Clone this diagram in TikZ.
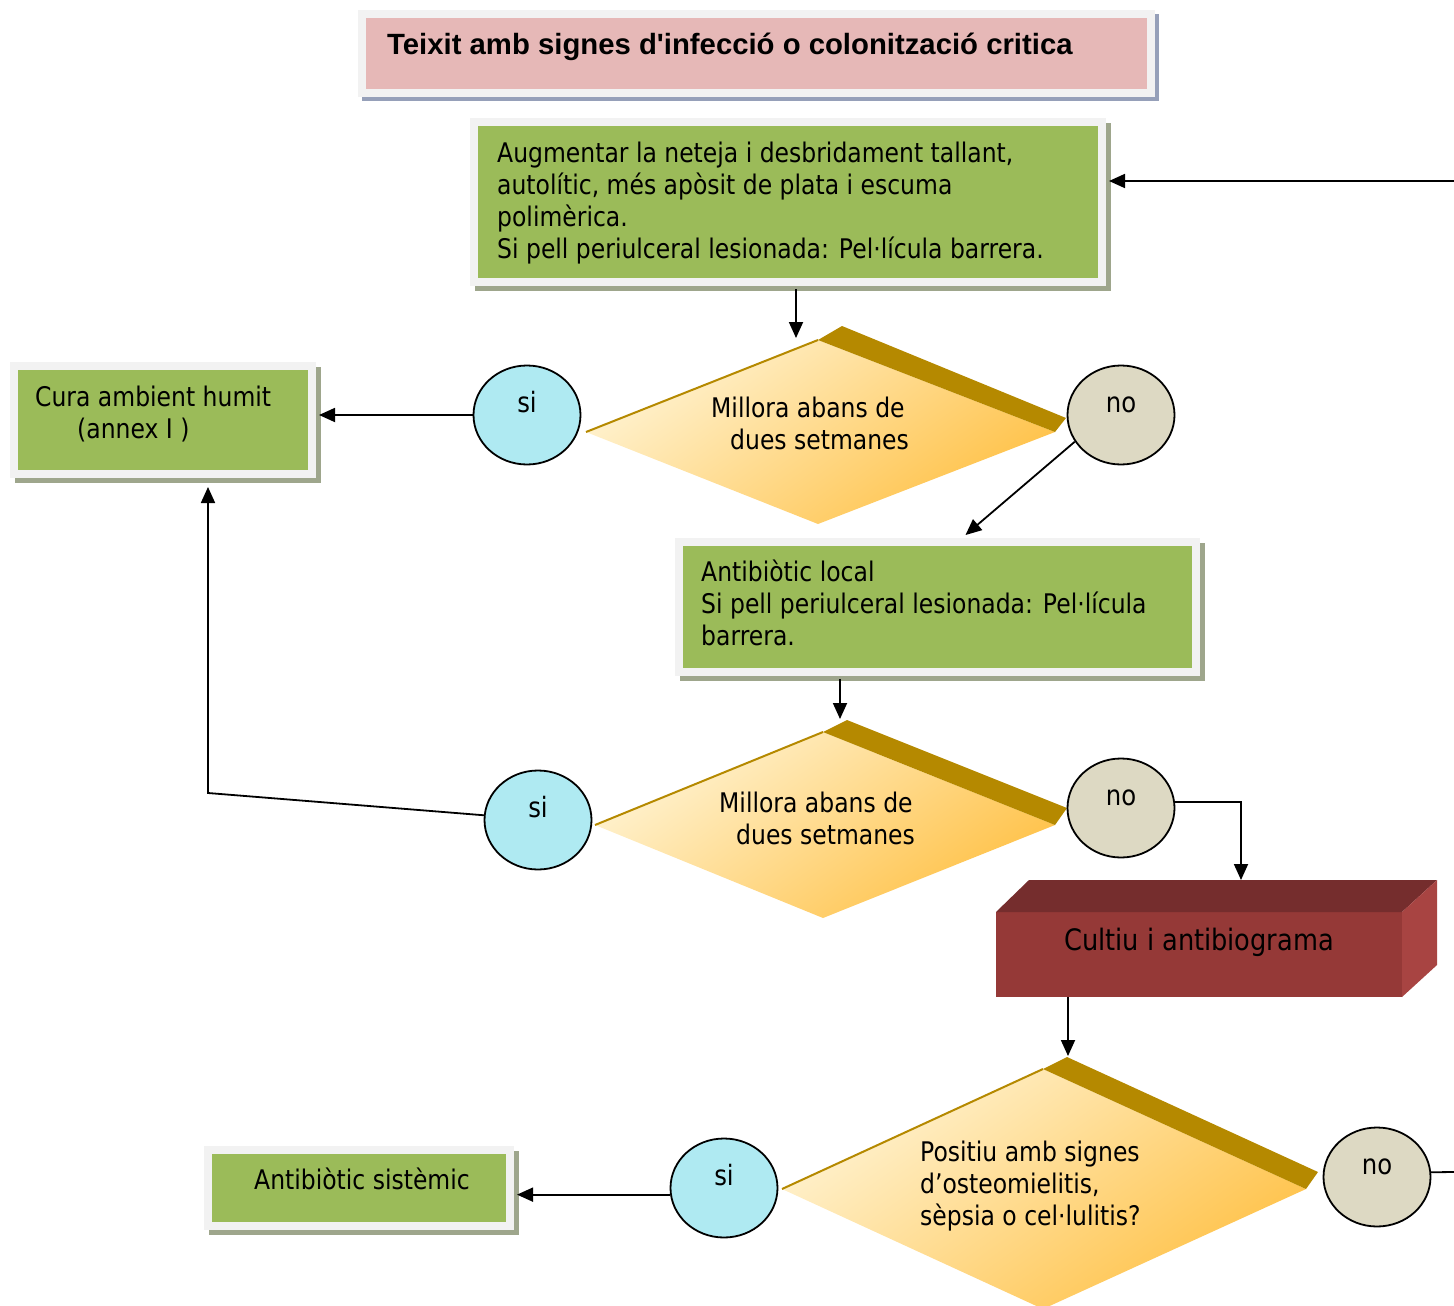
\documentclass[tikz,border=0pt]{standalone}
\usepackage{fontspec}
\setmainfont{DejaVu Sans}[FakeStretch=0.87]
\newfontfamily\titlefont{Liberation Sans}
\usetikzlibrary{positioning,arrows.meta,shapes.geometric,shadows}

\definecolor{framegray}{RGB}{242,242,242}
\definecolor{boxgreen}{RGB}{155,187,89}
\definecolor{greenshadow}{RGB}{158,166,140}
\definecolor{titlepink}{RGB}{230,184,183}
\definecolor{titleshadow}{RGB}{150,160,185}
\definecolor{sicol}{RGB}{175,234,242}
\definecolor{nocol}{RGB}{221,217,195}
\definecolor{dlight}{RGB}{255,243,210}
\definecolor{ddark}{RGB}{255,193,70}
\definecolor{dband}{RGB}{181,137,0}
\definecolor{cfront}{RGB}{149,57,55}
\definecolor{ctop}{RGB}{117,45,45}
\definecolor{cside}{RGB}{168,68,66}

\begin{document}
\begin{tikzpicture}[x=1pt, y=-1pt,
  txt/.style={font=\fontsize{27}{32}\selectfont, align=left, inner sep=0pt, anchor=base west},
  titletxt/.style={font=\titlefont\bfseries\fontsize{29.3}{35}\selectfont, inner sep=0pt, anchor=base west},
  framed/.style={rectangle, fill=framegray, outer sep=3pt, inner sep=0pt,
    path picture={\fill[#1] ([shift={(8pt,-8pt)}]path picture bounding box.north west)
      rectangle ([shift={(-8pt,8pt)}]path picture bounding box.south east);}},
  greenbox/.style={framed=boxgreen, drop shadow={shadow xshift=5pt, shadow yshift=-5pt, fill=greenshadow, opacity=1}},
  titlebox/.style={framed=titlepink, drop shadow={shadow xshift=4pt, shadow yshift=-4pt, fill=titleshadow, opacity=1}},
  circ/.style={ellipse, draw, line width=1.8pt, minimum width=107pt, minimum height=99pt, inner sep=0pt,
    font=\fontsize{28}{32}\selectfont, text height=14pt, text depth=20pt},
  sicirc/.style={circ, fill=sicol},
  nocirc/.style={circ, fill=nocol},
  dface/.style={top color=dlight, bottom color=ddark, shading angle=35},
  arr/.style={-{Triangle[length=16pt,width=14pt]}, line width=1.8pt},
  line/.style={line width=1.8pt}
]
\useasboundingbox (0,0) rectangle (1454,1306);

%%% titol
\node[titlebox, minimum width=797, minimum height=87] (title) at (756.5,53.5) {};
\node[titletxt] (titletext) at (387,55) {Teixit amb signes d'infecció o colonització critica};

%% caixes (text: base = ultima linia)
\node[greenbox, minimum width=636, minimum height=168] (augment) at (788,202) {};
\node[txt] (augtext) at (497,258) {Augmentar la neteja i desbridament tallant,\\autolític, més apòsit de plata i escuma\\polimèrica.\\Si pell periulceral lesionada: Pel·lícula barrera.};

\node[greenbox, minimum width=306, minimum height=116] (cura) at (163,420) {};
\node[txt] (curatext) at (35,438) {Cura ambient humit\\\hspace*{42pt}(annex I )};

\node[greenbox, minimum width=525, minimum height=138] (anti) at (937.5,607) {};
\node[txt] (antitext) at (701,645) {Antibiòtic local\\Si pell periulceral lesionada: Pel·lícula\\barrera.};

\node[greenbox, minimum width=310, minimum height=84] (sistem) at (359,1188) {};
\node[txt] (sistemtext) at (254,1189) {Antibiòtic sistèmic};

% caixa 3D
\node[fill=cfront, minimum width=406, minimum height=85, inner sep=0pt, outer sep=0pt,
  font=\fontsize{29.5}{34}\selectfont, text height=18pt, text depth=26pt] (cultiu) at (1199,954.5) {Cultiu i antibiograma};
\fill[ctop] (cultiu.north west) -- ++(33,-32) -- ++(408,0) -- (cultiu.north east) -- cycle;
\fill[cside] (cultiu.north east) -- ++(35,-32) -- ++(0,85) -- (cultiu.south east) -- cycle;

%% rombes
\shade[dface] (586,432) -- (818,340) -- (1055,432) -- (818,524) -- cycle;
\fill[dband] (818,340) -- (842,326) -- (1066,418) -- (1055,432) -- cycle;
\draw[dband, line width=2pt] (586,432) -- (818,340);
\node[txt] (d1text) at (711,449) {Millora abans de\\\hspace*{19pt}dues setmanes};

\shade[dface] (595,825) -- (823,732) -- (1055,825) -- (823,918) -- cycle;
\fill[dband] (823,732) -- (847,720) -- (1067,808) -- (1055,825) -- cycle;
\draw[dband, line width=2pt] (595,825) -- (823,732);
\node[txt] (d2text) at (719,844) {Millora abans de\\\hspace*{17pt}dues setmanes};

\shade[dface] (782,1189) -- (1043,1069) -- (1306,1189) -- (1043,1309) -- cycle;
\fill[dband] (1043,1069) -- (1067,1057) -- (1318,1172) -- (1306,1189) -- cycle;
\draw[dband, line width=2pt] (782,1189) -- (1043,1069);
\node[txt] (d3text) at (920,1225) {Positiu amb signes\\d’osteomielitis,\\sèpsia o cel·lulitis?};

%% cercles
\node[sicirc] (si1) at (527,415) {si};
\node[nocirc] (no1) at (1121,415) {no};
\node[sicirc] (si2) at (538,820) {si};
\node[nocirc] (no2) at (1121,808) {no};
\node[sicirc] (si3) at (724,1188) {si};
\node[nocirc] (no3) at (1377,1177) {no};

%% fletxes
\coordinate (rin) at (1454,181);
\draw[arr] (rin) -- (rin -| augment.east);
\coordinate (d1in) at (796,338);
\draw[arr] (d1in |- augment.south) -- (d1in);
\draw[arr] (si1.west) -- (si1.west -| cura.east);
\draw[arr] (no1.210) -- ([xshift=28pt]anti.north);
\coordinate (d2in) at (840,719);
\draw[arr] (d2in |- anti.south) -- (d2in);
\coordinate (bend) at (208,793);
\draw[arr] (si2.175) -- (bend) -- ([yshift=-6pt]bend |- cura.south);
\draw[arr] (no2.6) -| ([xshift=42pt,yshift=32pt]cultiu.north);
\coordinate (d3in) at (1068,1056);
\draw[arr] (d3in |- cultiu.south) -- (d3in);
\draw[arr] (si3.187) -- (si3.187 -| sistem.east);
\coordinate (rout) at (1454,1172);
\draw[line] (no3.5) -- (rout);

\end{tikzpicture}
\end{document}
